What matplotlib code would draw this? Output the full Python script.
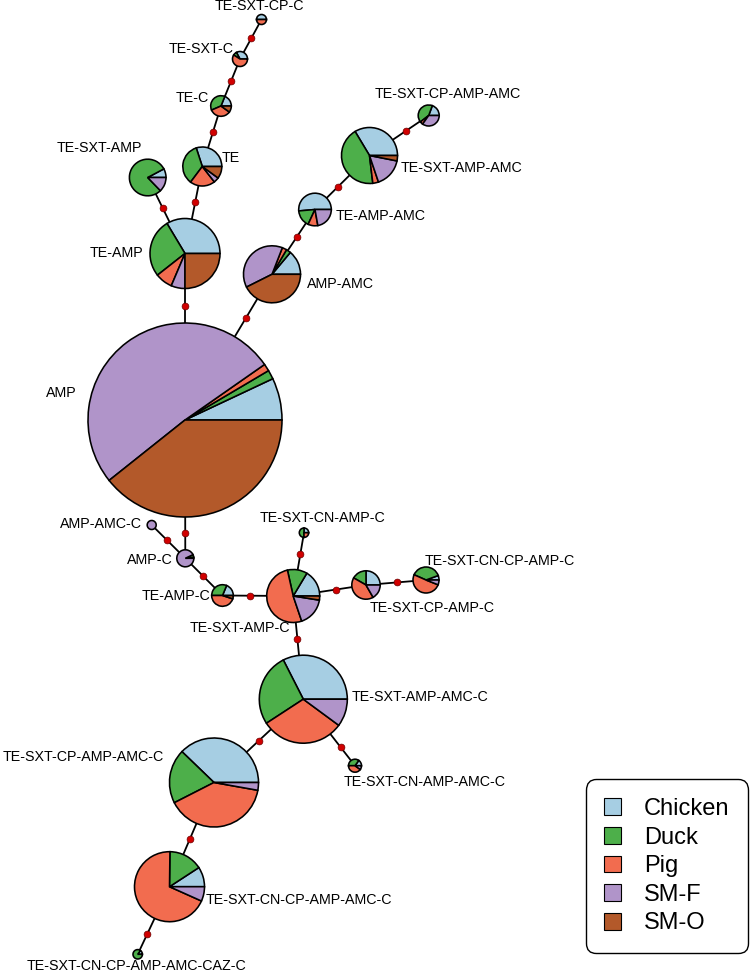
import numpy as np
import matplotlib.pyplot as plt
from matplotlib.patches import Patch

plt.rcParams['font.family'] = ['Liberation Sans', 'DejaVu Sans']

# ---- data: composition of each resistance profile (% of isolates by source) ----
sources = ["Chicken", "Duck", "Pig", "SM-F", "SM-O"]
colors = ["#a6cee3", "#4daf4a", "#f26c4f", "#b094c9", "#b3592a"]

names = [
    "AMP", "TE-AMP", "TE-SXT-AMP", "TE", "TE-C", "TE-SXT-C", "TE-SXT-CP-C",
    "AMP-AMC", "TE-AMP-AMC", "TE-SXT-AMP-AMC", "TE-SXT-CP-AMP-AMC",
    "AMP-AMC-C", "AMP-C", "TE-AMP-C", "TE-SXT-AMP-C", "TE-SXT-CN-AMP-C",
    "TE-SXT-CP-AMP-C", "TE-SXT-CN-CP-AMP-C", "TE-SXT-AMP-AMC-C",
    "TE-SXT-CN-AMP-AMC-C", "TE-SXT-CP-AMP-AMC-C", "TE-SXT-CN-CP-AMP-AMC-C",
    "TE-SXT-CN-CP-AMP-AMC-CAZ-C",
]
chicken = [7.0, 33.6, 7.8, 30.0, 19.0, 33.0, 50.0, 13.9, 51.4, 33.6, 19.4,
           0, 2.0, 18.8, 16.4, 25.0, 25.0, 5.6, 32.5, 15.0, 37.8, 9.2, 15.0]
duck = [1.5, 27.0, 79.4, 34.7, 37.5, 8.0, 0, 2.6, 16.7, 43.3, 41.1,
        0, 5.0, 31.2, 12.1, 50.0, 16.7, 37.8, 26.7, 35.0, 19.7, 15.6, 85.0]
pig = [1.2, 8.0, 0, 20.8, 33.5, 59.0, 50.0, 2.6, 9.7, 3.3, 4.7,
       0, 0, 45.0, 51.7, 25.0, 41.6, 50.6, 30.7, 40.0, 39.7, 68.5, 0]
sm_f = [51.0, 6.4, 12.8, 4.4, 0, 0, 0, 38.3, 22.2, 16.7, 34.8,
        100.0, 93.0, 0, 17.3, 0, 16.7, 6.0, 10.1, 10.0, 2.8, 6.7, 0]
sm_o = [39.3, 25.0, 0, 10.0, 10.0, 0, 0, 42.6, 0, 3.1, 0,
        0, 0, 5.0, 2.5, 0, 0, 0, 0, 0, 0, 0, 0]

# links of the minimum spanning tree (each has one hypothetical node)
links = [
    ("AMP", "TE-AMP"), ("AMP", "AMP-AMC"), ("TE-AMP", "TE-SXT-AMP"),
    ("TE-AMP", "TE"), ("TE", "TE-C"), ("TE-C", "TE-SXT-C"),
    ("TE-SXT-C", "TE-SXT-CP-C"), ("AMP-AMC", "TE-AMP-AMC"),
    ("TE-AMP-AMC", "TE-SXT-AMP-AMC"), ("TE-SXT-AMP-AMC", "TE-SXT-CP-AMP-AMC"),
    ("AMP", "AMP-C"), ("AMP-C", "AMP-AMC-C"), ("AMP-C", "TE-AMP-C"),
    ("TE-AMP-C", "TE-SXT-AMP-C"), ("TE-SXT-AMP-C", "TE-SXT-CN-AMP-C"),
    ("TE-SXT-AMP-C", "TE-SXT-CP-AMP-C"),
    ("TE-SXT-CP-AMP-C", "TE-SXT-CN-CP-AMP-C"),
    ("TE-SXT-AMP-C", "TE-SXT-AMP-AMC-C"),
    ("TE-SXT-AMP-AMC-C", "TE-SXT-CN-AMP-AMC-C"),
    ("TE-SXT-AMP-AMC-C", "TE-SXT-CP-AMP-AMC-C"),
    ("TE-SXT-CP-AMP-AMC-C", "TE-SXT-CN-CP-AMP-AMC-C"),
    ("TE-SXT-CN-CP-AMP-AMC-C", "TE-SXT-CN-CP-AMP-AMC-CAZ-C"),
]

# ---- layout (pixel space of the original figure) ----
node_x = [185, 185, 147.7, 202.3, 221, 240, 261.5, 272, 315, 369.5, 428.7,
          151.7, 185.3, 222.5, 293.2, 304, 366, 426, 303.3, 355, 214, 169.5, 137.7]
node_y = [420, 253.5, 177.5, 166.5, 106, 59, 19.5, 274.3, 209.5, 155.5, 115.5,
          525, 558.3, 595.5, 596, 532.7, 585, 580, 699.2, 765.7, 782.5, 886.7, 954.3]
node_r = [97, 35, 18.3, 19.5, 10.3, 7.5, 5, 28.5, 16.3, 28, 10.5,
          4.5, 8.5, 10.8, 26.5, 4.7, 14.2, 13, 44, 6.5, 44.5, 35, 4.7]
# label anchor, alignment
labels = [
    (77, 393, "right"), (143, 253, "right"), (99, 148, "center"),
    (222, 157.5, "left"), (208.5, 98, "right"), (233.5, 49, "right"),
    (259, 6, "center"), (307, 283.5, "left"), (336, 216, "left"),
    (400.5, 168.5, "left"), (448, 93.5, "center"), (142, 524, "right"),
    (172.5, 560, "right"), (210.5, 596.5, "right"), (290.5, 628.5, "right"),
    (322, 518.5, "center"), (369.5, 608, "left"), (425, 561, "left"),
    (352, 697, "left"), (344, 782.5, "left"), (164, 757, "right"),
    (206, 899.5, "left"), (136.7, 966, "center"),
]

W, H = 750, 973
fig = plt.figure(figsize=(7.5, 9.73), dpi=100)
ax = fig.add_axes([0, 0, 1, 1])

idx = {n: i for i, n in enumerate(names)}
comp = np.array([chicken, duck, pig, sm_f, sm_o]).T

# edges + hypothetical nodes
dots = []
for a, b in links:
    i, j = idx[a], idx[b]
    p = np.array([node_x[i], node_y[i]])
    q = np.array([node_x[j], node_y[j]])
    ax.plot([p[0], q[0]], [p[1], q[1]], color="black", lw=1.3, zorder=1)
    u = (q - p) / np.linalg.norm(q - p)
    s = p + u * node_r[i]
    e = q - u * node_r[j]
    dots.append((s + e) / 2)
dots = np.array(dots)
ax.scatter(dots[:, 0], dots[:, 1], s=24, color="#d10000",
           edgecolor="#6b0000", linewidth=0.5, zorder=3)

# pie nodes (y axis is inverted, so clockwise in data = counter-clockwise on screen)
for i, n in enumerate(names):
    vals = comp[i]
    keep = vals > 0
    ax.pie(vals[keep], colors=[c for c, k in zip(colors, keep) if k],
           center=(node_x[i], node_y[i]), radius=node_r[i],
           startangle=0, counterclock=False, normalize=True,
           wedgeprops=dict(edgecolor="black", linewidth=1.15),
           frame=True)
    lx, ly, ha = labels[i]
    ax.text(lx, ly, n, ha=ha, va="center", fontsize=10.3, zorder=5)

ax.set_xlim(0, W)
ax.set_ylim(H, 0)
ax.set_aspect("equal")
ax.axis("off")

handles = [Patch(facecolor=c, edgecolor="black", linewidth=0.8) for c in colors]
leg = fig.legend(handles, sources, loc="lower right",
                 bbox_to_anchor=(748.3 / W, 1 - 953.3 / H), borderaxespad=0,
                 fontsize=17, handlelength=0.72, handleheight=0.72,
                 handletextpad=0.95, labelspacing=0.28, borderpad=0.8,
                 frameon=True, fancybox=True)
fr = leg.get_frame()
fr.set_edgecolor("black")
fr.set_linewidth(1.0)
fr.set_alpha(1)
fr.set_boxstyle("round", pad=0, rounding_size=0.45)

fig.savefig("out.png", dpi=100)
